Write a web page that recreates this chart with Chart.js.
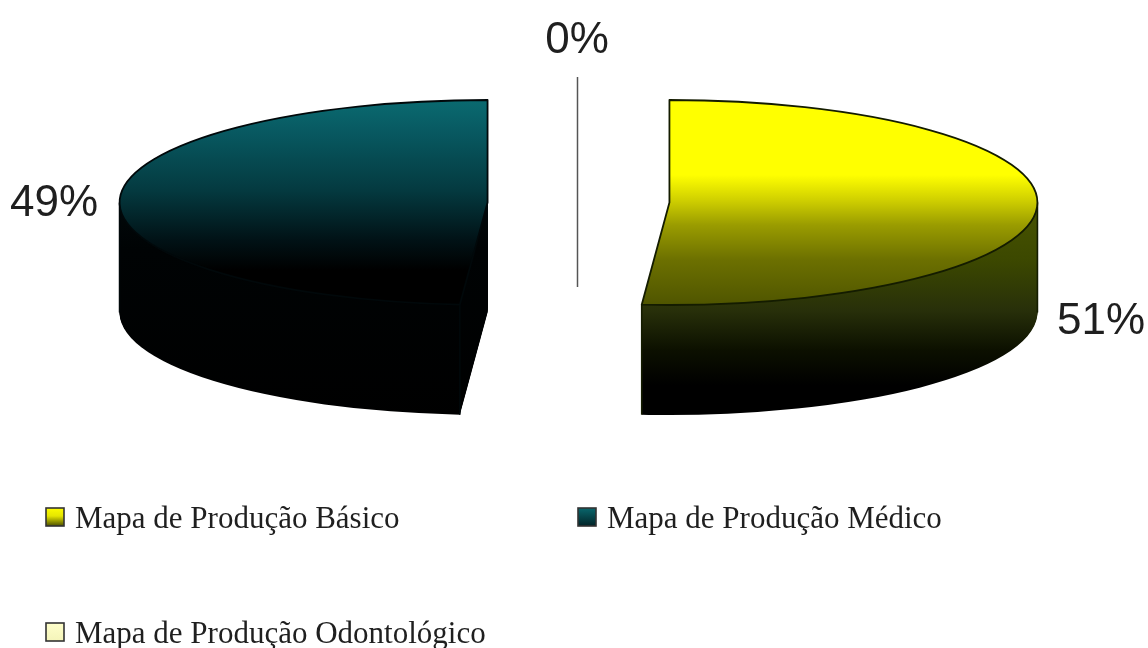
<!DOCTYPE html>
<html>
<head>
<meta charset="utf-8">
<style>html,body{margin:0;padding:0;background:#fff}canvas{display:block;filter:blur(0.45px)}</style>
<script src="https://cdn.jsdelivr.net/npm/chart.js@4"></script>
</head>
<body>
<canvas id="c" width="1148" height="648"></canvas>
<script>
const categories = ["Mapa de Produção Básico", "Mapa de Produção Médico", "Mapa de Produção Odontológico"];
const seriesValues = [51.2, 48.8, 0];
const percentLabelPos = [[1101, 334], [54, 216], [577, 53]];
const legendPos = [[46, 528], [578, 528], [46, 643]];

const topStops = [
  [[100,'#ffff00'],[175,'#ffff00'],[200,'#d0d000'],[225,'#9a9c00'],[260,'#6c7000'],[310,'#4c5200']],
  [[100,'#0a6a70'],[130,'#085a62'],[190,'#043a40'],[240,'#011216'],[270,'#000000'],[310,'#000000']],
  [[100,'#ffffcc'],[310,'#ffffcc']]
];
const wallStops = [
  [[190,'#4c5800'],[260,'#3c4800'],[310,'#28300a'],[350,'#0c1000'],[385,'#000000'],[430,'#000000']],
  [[190,'#020a0c'],[250,'#000304'],[430,'#000000']],
  [[190,'#c8c8a0'],[430,'#646450']]
];
const outlineCol = ['#141c00', '#01080a', '#333333'];

const RX = 368, RY = 102.5, DEPTH = 110, CX = 578.5, CY = 202.5, EXPLODE = 91 / 368;

const pie3d = {
  id: 'pie3d',
  beforeDatasetDraw(chart, args) {
    const ctx = chart.ctx;
    const arcs = args.meta.data;
    const R = arcs[0].outerRadius, ax = arcs[0].x, ay = arcs[0].y;
    const sx = RX / R, sy = RY / R;
    const place = (arc, depth) => {
      const mid = (arc.startAngle + arc.endAngle) / 2;
      ctx.setTransform(sx, 0, 0, sy, CX - ax * sx, CY + depth - ay * sy);
      ctx.translate(Math.cos(mid) * EXPLODE * R, 0);
    };
    // gradient whose stops are screen rows, expressed in the arc's local space
    const screenGradient = (stops, depth) => {
      const a = stops[0][0], b = stops[stops.length - 1][0];
      const g = ctx.createLinearGradient(0, ay + (a - CY - depth) / sy, 0, ay + (b - CY - depth) / sy);
      stops.forEach(s => g.addColorStop((s[0] - a) / (b - a), s[1]));
      return g;
    };
    const paint = (arc, fill, depth) => {
      const saved = arc.options;
      arc.options = Object.assign({}, saved, { backgroundColor: fill, borderWidth: 0 });
      place(arc, depth);
      arc.draw(ctx);
      arc.options = saved;
    };
    const wedge = (arc, depth) => {
      place(arc, depth);
      ctx.beginPath();
      ctx.moveTo(arc.x, arc.y);
      ctx.arc(arc.x, arc.y, R, arc.startAngle, arc.endAngle);
      ctx.closePath();
    };
    ctx.save();
    arcs.forEach((arc, i) => {
      if (arc.circumference === 0) return;
      for (let d = DEPTH; d >= 1; d--) paint(arc, screenGradient(wallStops[i], d), d);
      // silhouette edges of the wall
      const mid = (arc.startAngle + arc.endAngle) / 2;
      const shift = Math.cos(mid) * EXPLODE * RX;
      const right = Math.cos(mid) > 0;
      const xs = right
        ? [CX + shift + RX, CX + shift + Math.cos(arc.endAngle) * RX]
        : [CX + shift - RX, CX + shift + Math.cos(arc.startAngle) * RX];
      const ys = right
        ? [CY, CY + Math.sin(arc.endAngle) * RY]
        : [CY, CY + Math.sin(arc.startAngle) * RY];
      ctx.setTransform(1, 0, 0, 1, 0, 0);
      ctx.strokeStyle = outlineCol[i];
      ctx.lineWidth = 1.6;
      xs.forEach((x, k) => { ctx.beginPath(); ctx.moveTo(x, ys[k]); ctx.lineTo(x, ys[k] + DEPTH); ctx.stroke(); });

      paint(arc, screenGradient(topStops[i], 0), 0);
      wedge(arc, 0);
      ctx.setTransform(1, 0, 0, 1, 0, 0);
      ctx.lineJoin = 'round';
      ctx.lineWidth = 1.8;
      ctx.stroke();
    });
    ctx.restore();
    return false;
  },
  afterDraw(chart) {
    const ctx = chart.ctx;
    ctx.save();
    ctx.setTransform(1, 0, 0, 1, 0, 0);
    // leader line of the empty slice
    ctx.strokeStyle = '#555555';
    ctx.lineWidth = 1.5;
    ctx.beginPath(); ctx.moveTo(CX - 1, 77); ctx.lineTo(CX - 1, 287); ctx.stroke();
    // percent labels
    const total = seriesValues.reduce((a, b) => a + b, 0);
    ctx.fillStyle = '#1f1f1f';
    ctx.font = '44px "Liberation Sans"';
    ctx.textAlign = 'center';
    ctx.textBaseline = 'alphabetic';
    seriesValues.forEach((v, i) => {
      ctx.fillText(Math.round(v / total * 100) + '%', percentLabelPos[i][0], percentLabelPos[i][1]);
    });
    // legend
    ctx.textAlign = 'left';
    ctx.font = '31px "Liberation Serif"';
    categories.forEach((name, i) => {
      const [x, y] = legendPos[i];
      const g = ctx.createLinearGradient(0, y - 21, 0, y - 1);
      if (i === 0) { g.addColorStop(0, '#ffff00'); g.addColorStop(.45, '#e6e600'); g.addColorStop(1, '#3c4000'); }
      else if (i === 1) { g.addColorStop(0, '#0a6a70'); g.addColorStop(1, '#022024'); }
      else { g.addColorStop(0, '#ffffcc'); g.addColorStop(1, '#f4f4b8'); }
      ctx.fillStyle = g;
      ctx.fillRect(x, y - 20, 18, 18);
      ctx.strokeStyle = '#333333';
      ctx.lineWidth = 1.6;
      ctx.strokeRect(x, y - 20, 18, 18);
      ctx.fillStyle = '#1f1f1f';
      ctx.fillText(name, x + 29, y);
    });
    ctx.restore();
  }
};

new Chart(document.getElementById('c'), {
  type: 'pie',
  data: {
    labels: categories,
    datasets: [{
      data: seriesValues,
      backgroundColor: ['#ffff00', '#0a6a70', '#ffffcc'],
      borderWidth: 0
    }]
  },
  options: {
    responsive: false,
    animation: false,
    plugins: { legend: { display: false }, tooltip: { enabled: false } }
  },
  plugins: [pie3d]
});
</script>
</body>
</html>
